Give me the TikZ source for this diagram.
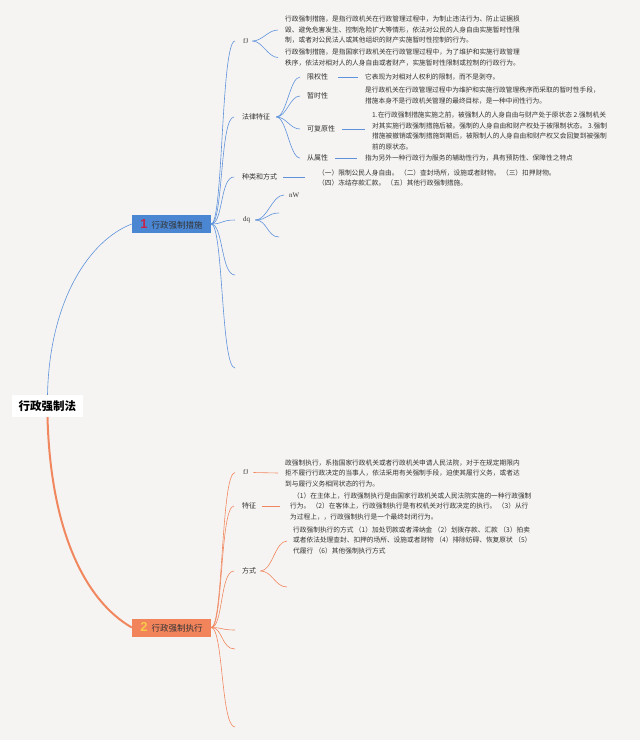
\documentclass[tikz,border=0pt]{standalone}
\usepackage{fontspec}
\setmainfont{Noto Sans CJK SC}
\newfontfamily\serifl{Liberation Serif}
\newfontfamily\numfont{Liberation Sans}
\definecolor{bgc}{HTML}{F6F4F3}
\definecolor{bline}{HTML}{5E93DB}
\definecolor{bfill}{HTML}{4A86D1}
\definecolor{sline}{HTML}{F0875F}
\definecolor{sfill}{HTML}{F2845C}
\definecolor{txt}{HTML}{333333}
\definecolor{numred}{HTML}{C8234A}
\definecolor{numyel}{HTML}{F8C948}
\begin{document}
\begin{tikzpicture}[x=1pt,y=-1pt,
 bl/.style={draw=bline,line width=0.6pt},
 sl/.style={draw=sline,line width=0.6pt},
 lab/.style={anchor=west,inner sep=0pt,text=txt,font=\fontsize{7}{8}\selectfont},
 llab/.style={anchor=west,inner sep=0pt,text=txt,font=\serifl\fontsize{7}{8}\selectfont},
 para/.style={anchor=west,inner sep=0pt,align=left,text=txt,font=\fontsize{6.7}{10.5}\selectfont},
 topic/.style={minimum width=79pt,minimum height=18pt,inner sep=0pt,text=txt,font=\fontsize{8.5}{9}\selectfont},
]
\fill[bgc] (0,0) rectangle (640,740);
\useasboundingbox (0,0) rectangle (640,740);

% root and main topics
\node[fill=white,minimum width=71pt,minimum height=22pt,inner sep=0pt,text=black,font=\bfseries\fontsize{11.5}{12}\selectfont] (root) at (47.5,406) {行政强制法};
\node[topic,fill=bfill] (n1) at (171.5,224) {{\numfont\bfseries\fontsize{13}{13}\selectfont\color{numred}1}\hspace{4pt}行政强制措施};
\node[topic,fill=sfill] (n2) at (171.5,627.5) {{\numfont\bfseries\fontsize{13}{13}\selectfont\color{numyel}2}\hspace{4pt}行政强制执行};

\draw[bl] (root.north) .. controls +(2,-95) and +(-42,16) .. (n1.west);
\draw[draw=sline,line width=2pt] (root.south) .. controls +(3,113) and +(-47,-27) .. (n2.west);

% ---------- branch 1 ----------
\node[llab] (fj1) at (243,41) {fJ};
\node[lab] (flt) at (242,117) {法律特征};
\node[lab] (zl) at (242,177) {种类和方式};
\node[llab] (dq) at (243,220) {dq};
\coordinate (e1) at (235,275);
\coordinate (e2) at (235,368);

\foreach \c in {fj1,flt,zl,dq}
  \draw[bl] (n1.east) .. controls +(12,0) and +(-14,0) .. ([xshift=-8pt]\c.west);
\foreach \c in {e1,e2}
  \draw[bl] (n1.east) .. controls +(12,0) and +(-14,0) .. (\c);

\node[para] (t1) at (285,30) {行政强制措施，是指行政机关在行政管理过程中，为制止违法行为、防止证据损\\毁、避免危害发生、控制危险扩大等情形，依法对公民的人身自由实施暂时性限\\制，或者对公民法人或其他组织的财产实施暂时性控制的行为。};
\node[para] (t2) at (285,57.5) {行政强制措施，是指国家行政机关在行政管理过程中，为了维护和实施行政管理\\秩序，依法对相对人的人身自由或者财产，实施暂时性限制或控制的行政行为。};
\foreach \c in {t1,t2}
  \draw[bl] ([xshift=4pt]fj1.east) .. controls +(10,0) and +(-10,0) .. ([xshift=-7pt]\c.west);

\node[lab] (xq) at (307,77) {限权性};
\node[lab] (zs) at (307,96) {暂时性};
\node[lab] (kf) at (307,129) {可复原性};
\node[lab] (cs) at (307,158) {从属性};
\foreach \c in {xq,zs,kf,cs}
  \draw[bl] ([xshift=6pt]flt.east) .. controls +(10,0) and +(-10,0) .. ([xshift=-7pt]\c.west);

\node[para] (txq) at (365,77) {它表现为对相对人权利的限制，而不是剥夺。};
\node[para] (tzs) at (365,95.5) {是行政机关在行政管理过程中为维护和实施行政管理秩序而采取的暂时性手段，\\措施本身不是行政机关管理的最终目标，是一种中间性行为。};
\node[para] (tkf) at (372,131) {1.在行政强制措施实施之前，被强制人的人身自由与财产处于原状态 2.强制机关\\对其实施行政强制措施后被。强制的人身自由和财产权处于被限制状态。 3.强制\\措施被撤销或强制措施到期后，被限制人的人身自由和财产权又会回复到被强制\\前的原状态。};
\node[para] (tcs) at (365,158) {指为另外一种行政行为服务的辅助性行为，具有预防性、保障性之特点};
\draw[bl] ([xshift=10pt]xq.east) -- ([xshift=-7pt]txq.west);
\draw[bl] ([xshift=7pt]kf.east) -- ([xshift=-7pt]kf.east -| tkf.west);
\draw[bl] ([xshift=7pt]cs.east) -- ([xshift=-8pt]tcs.west);

\node[para] (tzl) at (318,178) {（一）限制公民人身自由。 （二）查封场所，设施或者财物。 （三）扣押财物。\\（四）冻结存款汇款。 （五）其他行政强制措施。};
\draw[bl] ([xshift=6pt]zl.east) -- ([xshift=-13pt]zl.east -| tzl.west);

\node[llab] (nw) at (289,195) {nW};
\coordinate (d1) at (279,213);
\coordinate (d2) at (279,237);
\draw[bl] ([xshift=5pt]dq.east) .. controls +(12,0) and +(-12,0) .. ([xshift=-5pt]nw.west);
\foreach \c in {d1,d2}
  \draw[bl] ([xshift=5pt]dq.east) .. controls +(12,0) and +(-12,0) .. (\c);

% ---------- branch 2 ----------
\node[llab] (fj2) at (243,472.5) {fJ};
\node[lab] (tz) at (242,506) {特征};
\node[lab] (fs) at (242,571) {方式};
\coordinate (e3) at (235,630);
\coordinate (e4) at (235,649);
\coordinate (e5) at (235,727);
\foreach \c in {fj2,tz,fs}
  \draw[sl] (n2.east) .. controls +(12,0) and +(-14,0) .. ([xshift=-8pt]\c.west);
\foreach \c in {e3,e4,e5}
  \draw[sl] (n2.east) .. controls +(12,0) and +(-14,0) .. (\c);

\node[para] (tfj2) at (285,473) {政强制执行，系指国家行政机关或者行政机关申请人民法院，对于在规定期限内\\拒不履行行政决定的当事人，依法采用有关强制手段，迫使其履行义务，或者达\\到与履行义务相同状态的行为。};
\draw[sl] ([xshift=5pt]fj2.east) -- ([xshift=-7pt]tfj2.west);

\node[para] (ttz) at (290,506) {\hspace{3pt}（1）在主体上，行政强制执行是由国家行政机关或人民法院实施的一种行政强制\\行为。 （2）在客体上，行政强制执行是有权机关对行政决定的执行。 （3）从行\\为过程上，，行政强制执行是一个最终封闭行为。};
\draw[sl] ([xshift=6pt]tz.east) -- ([xshift=-10pt]ttz.west);

\node[para] (tfs) at (293,540) {行政强制执行的方式 （1）加处罚款或者滞纳金 （2）划拨存款、汇款 （3）拍卖\\或者依法处理查封、扣押的场所、设施或者财物 （4）排除妨碍、恢复原状 （5）\\代履行 （6）其他强制执行方式};
\coordinate (f2) at (287,587);
\draw[sl] ([xshift=4pt]fs.east) .. controls +(12,0) and +(-12,0) .. ([xshift=-6pt,yshift=-1pt]tfs.west);
\draw[sl] ([xshift=4pt]fs.east) .. controls +(12,0) and +(-12,0) .. (f2);
\end{tikzpicture}
\end{document}
